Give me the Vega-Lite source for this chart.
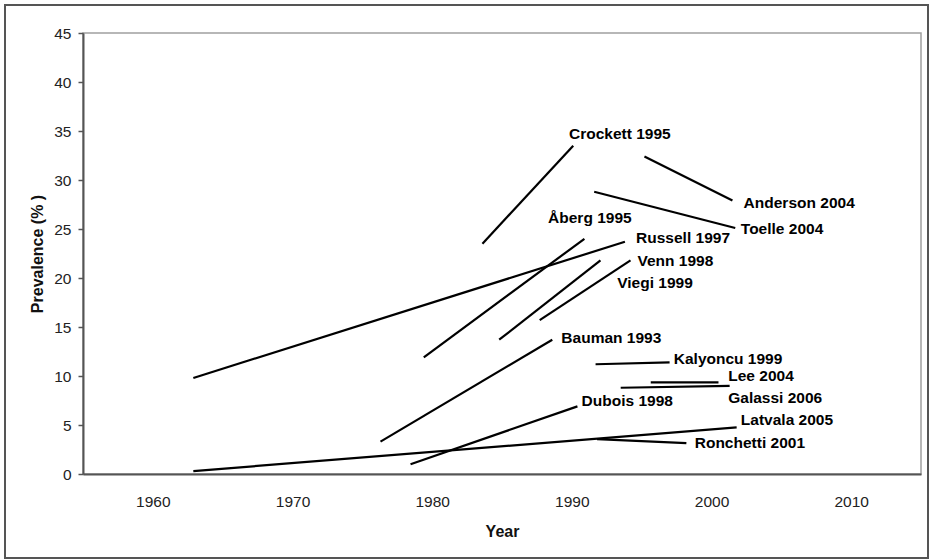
{
  "$schema": "https://vega.github.io/schema/vega-lite/v6.json",
  "autosize": {"type": "none"},
  "padding": {"left": 83, "top": 33, "right": 9, "bottom": 86},
  "width": 838,
  "height": 441,
  "background": "white",
  "config": {
    "font": "Liberation Sans",
    "view": {"stroke": "#a0a0a0", "strokeWidth": 1.5},
    "axis": {
      "grid": false,
      "domainColor": "#555555",
      "domainWidth": 2,
      "labelFont": "Liberation Sans",
      "labelFontSize": 15.5,
      "labelColor": "#222222",
      "titleFont": "Liberation Sans",
      "titleFontWeight": "bold",
      "titleFontSize": 16,
      "titleColor": "#111111"
    }
  },
  "data": {
    "values": [
      {"study": "Crockett 1995", "year_start": 1983.6, "prev_start": 23.5, "year_end": 1990.1, "prev_end": 33.5, "label_year": 1989.8, "label_prev": 34.7},
      {"study": "Anderson 2004", "year_start": 1995.2, "prev_start": 32.4, "year_end": 2001.5, "prev_end": 27.9, "label_year": 2002.3, "label_prev": 27.7},
      {"study": "Toelle 2004", "year_start": 1991.6, "prev_start": 28.8, "year_end": 2001.7, "prev_end": 25.1, "label_year": 2002.1, "label_prev": 25.0},
      {"study": "Åberg 1995", "year_start": 1979.4, "prev_start": 11.9, "year_end": 1990.9, "prev_end": 24.0, "label_year": 1988.3, "label_prev": 26.1},
      {"study": "Russell 1997", "year_start": 1962.9, "prev_start": 9.8, "year_end": 1993.8, "prev_end": 23.7, "label_year": 1994.6, "label_prev": 24.1},
      {"study": "Venn 1998", "year_start": 1984.8, "prev_start": 13.7, "year_end": 1992.05, "prev_end": 21.8, "label_year": 1994.7, "label_prev": 21.7},
      {"study": "Viegi 1999", "year_start": 1987.7, "prev_start": 15.7, "year_end": 1994.2, "prev_end": 21.8, "label_year": 1993.25, "label_prev": 19.5},
      {"study": "Bauman 1993", "year_start": 1976.3, "prev_start": 3.3, "year_end": 1988.6, "prev_end": 13.7, "label_year": 1989.25, "label_prev": 13.9},
      {"study": "Kalyoncu 1999", "year_start": 1991.7, "prev_start": 11.2, "year_end": 1997.0, "prev_end": 11.4, "label_year": 1997.3, "label_prev": 11.75},
      {"study": "Lee 2004", "year_start": 1995.65, "prev_start": 9.35, "year_end": 2000.5, "prev_end": 9.35, "label_year": 2001.2, "label_prev": 9.95},
      {"study": "Galassi 2006", "year_start": 1993.5, "prev_start": 8.8, "year_end": 2001.3, "prev_end": 9.0, "label_year": 2001.2, "label_prev": 7.75},
      {"study": "Dubois 1998", "year_start": 1978.45, "prev_start": 1.0, "year_end": 1990.4, "prev_end": 6.9, "label_year": 1990.7, "label_prev": 7.4},
      {"study": "Latvala 2005", "year_start": 1962.9, "prev_start": 0.3, "year_end": 2001.8, "prev_end": 4.75, "label_year": 2002.1, "label_prev": 5.55},
      {"study": "Ronchetti 2001", "year_start": 1991.8, "prev_start": 3.55, "year_end": 1998.2, "prev_end": 3.15, "label_year": 1998.8, "label_prev": 3.2}
    ]
  },
  "layer": [
    {
      "mark": {"type": "rule", "color": "#000000", "strokeWidth": 2.2},
      "encoding": {
        "x": {
          "field": "year_start",
          "type": "quantitative",
          "title": "Year",
          "scale": {"domain": [1955, 2015], "nice": false, "zero": false},
          "axis": {
            "values": [1960, 1970, 1980, 1990, 2000, 2010],
            "format": "d",
            "ticks": false,
            "tickSize": 0,
            "labelPadding": 20,
            "titlePadding": 14
          }
        },
        "x2": {"field": "year_end"},
        "y": {
          "field": "prev_start",
          "type": "quantitative",
          "title": "Prevalence (% )",
          "scale": {"domain": [0, 45], "nice": false},
          "axis": {
            "values": [0, 5, 10, 15, 20, 25, 30, 35, 40, 45],
            "tickSize": 5,
            "tickColor": "#555555",
            "tickWidth": 1.5,
            "labelPadding": 7,
            "titlePadding": 8
          }
        },
        "y2": {"field": "prev_end"}
      }
    },
    {
      "mark": {"type": "text", "align": "left", "baseline": "middle", "fontWeight": "bold", "fontSize": 15.5, "color": "#000000"},
      "encoding": {
        "x": {"field": "label_year", "type": "quantitative"},
        "y": {"field": "label_prev", "type": "quantitative"},
        "text": {"field": "study"}
      }
    },
    {
      "data": {"values": [{"frame": "outer"}]},
      "mark": {"type": "rect", "fill": null, "filled": false, "stroke": "#555555", "strokeWidth": 2, "xOffset": -78, "x2Offset": 7, "yOffset": -28, "y2Offset": 84},
      "encoding": {
        "x": {"datum": 1955, "type": "quantitative"},
        "x2": {"datum": 2015},
        "y": {"datum": 45, "type": "quantitative"},
        "y2": {"datum": 0}
      }
    }
  ]
}
